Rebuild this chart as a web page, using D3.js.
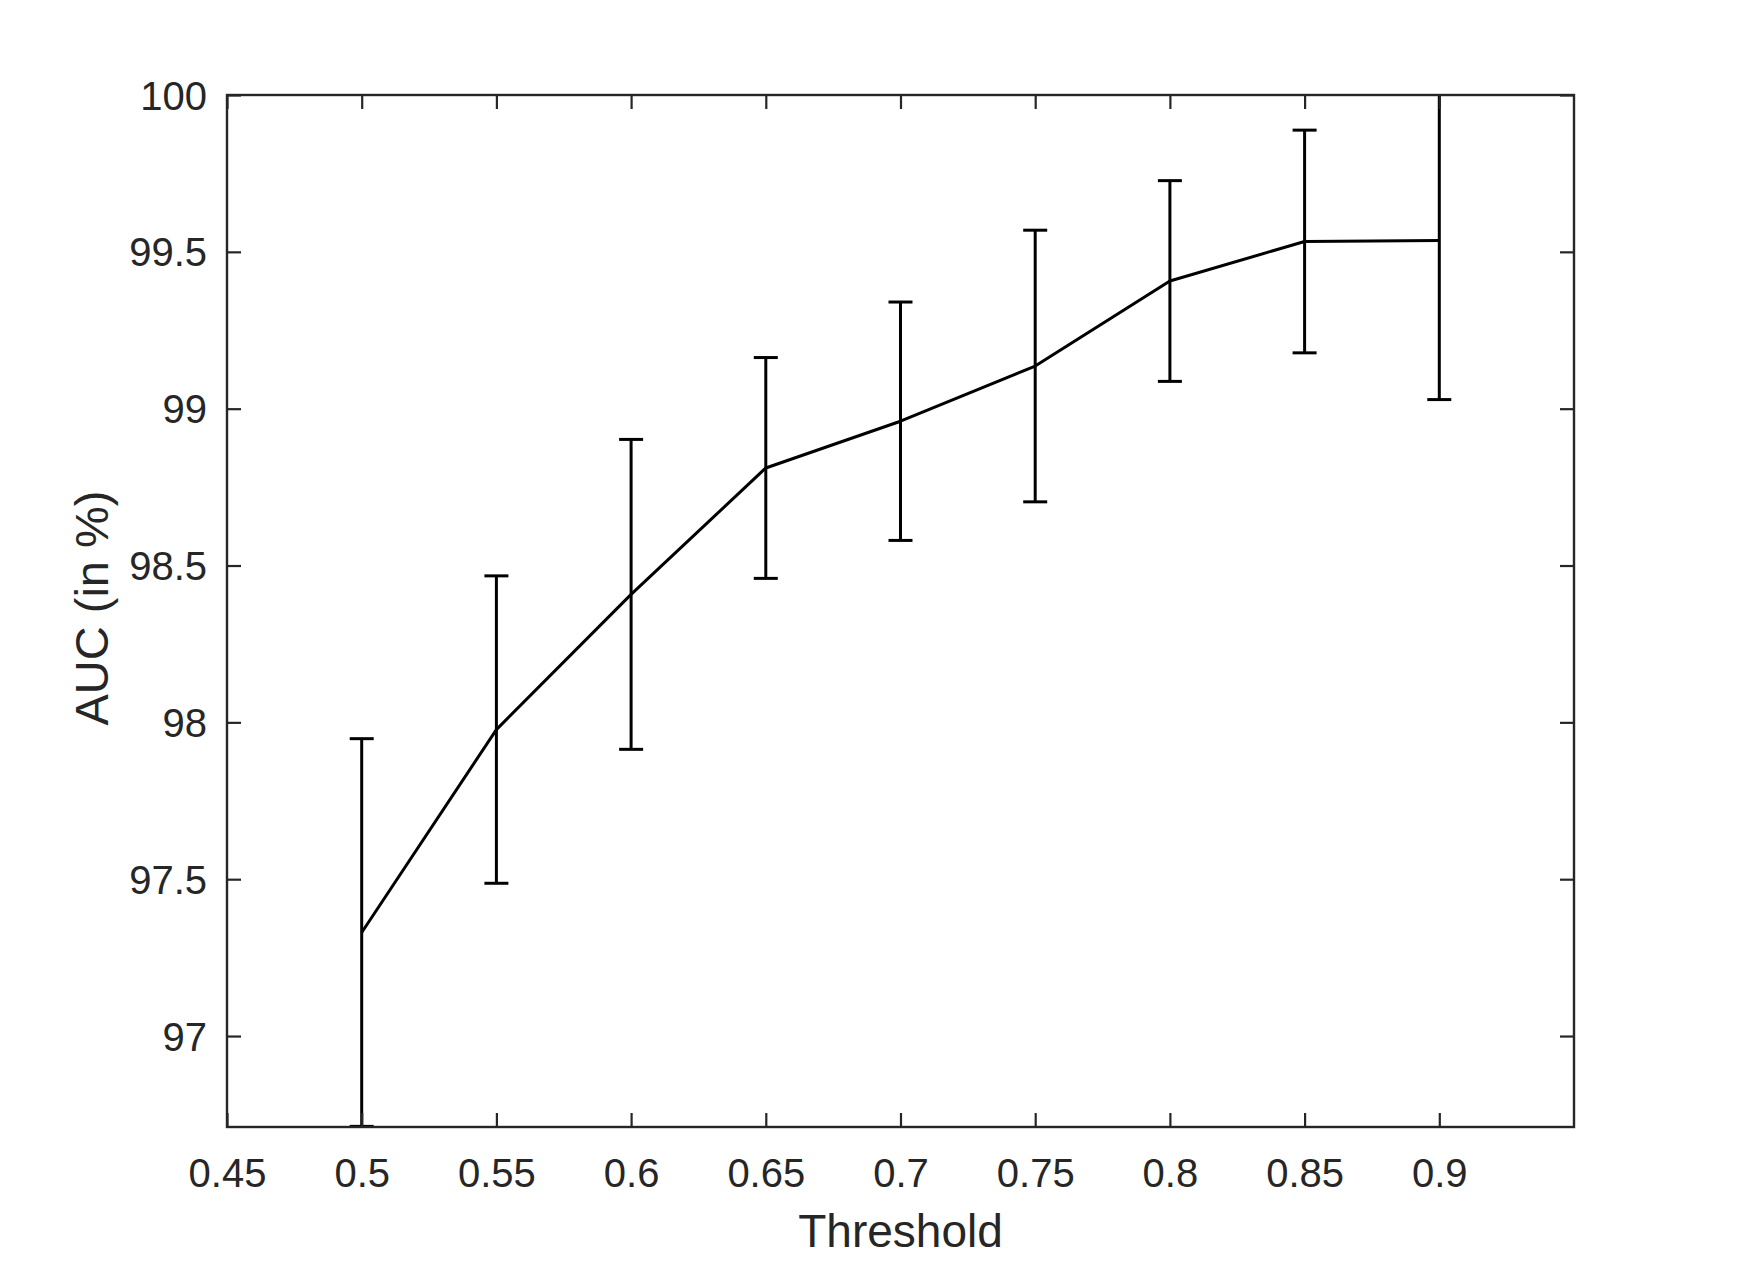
<!DOCTYPE html>
<html>
<head>
<meta charset="utf-8">
<script src="https://cdn.jsdelivr.net/npm/d3@7"></script>
<style>
  body { margin: 0; background: #fff; }
  text { font-family: "Liberation Sans", Arial, Helvetica, sans-serif; fill: #262626; }
</style>
</head>
<body>
<div id="chart"></div>
<script>
// data
const thresholds = [0.5, 0.55, 0.6, 0.65, 0.7, 0.75, 0.8, 0.85, 0.9];
const aucMean = [97.33, 97.977, 98.408, 98.811, 98.96, 99.136, 99.407, 99.533, 99.536];
const aucErr = [0.618, 0.49, 0.494, 0.352, 0.38, 0.433, 0.32, 0.355, 0.507];
const xTicks = [0.45, 0.5, 0.55, 0.6, 0.65, 0.7, 0.75, 0.8, 0.85, 0.9];
const yTicks = [97, 97.5, 98, 98.5, 99, 99.5, 100];

const W = 1740, H = 1267;
const margin = {top: 95, right: 166, bottom: 140, left: 227};
const width = W - margin.left - margin.right;
const height = H - margin.top - margin.bottom;

const svg = d3.select("#chart").append("svg")
    .attr("width", W)
    .attr("height", H);

const g = svg.append("g")
    .attr("transform", "translate(" + margin.left + "," + margin.top + ")");

const x = d3.scaleLinear().domain([0.45, 0.95]).range([0, width]);
const y = d3.scaleLinear().domain([96.71, 100]).range([height, 0]);

const axisColor = "#262626";
const tickLen = 14;

// clip so error bars stop at the box
g.append("clipPath").attr("id", "clip")
    .append("rect").attr("width", width).attr("height", height);

const pts = thresholds.map((t, i) => ({t: t, m: aucMean[i], e: aucErr[i]}));

const plot = g.append("g").attr("clip-path", "url(#clip)");

// error bars
const bars = plot.selectAll(".err").data(pts).enter().append("g").attr("class", "err");
bars.append("line")
    .attr("x1", d => x(d.t)).attr("x2", d => x(d.t))
    .attr("y1", d => y(d.m - d.e)).attr("y2", d => y(d.m + d.e))
    .attr("stroke", "#000").attr("stroke-width", 3);
const capW = 12;
bars.append("line")
    .attr("x1", d => x(d.t) - capW).attr("x2", d => x(d.t) + capW)
    .attr("y1", d => y(d.m + d.e)).attr("y2", d => y(d.m + d.e))
    .attr("stroke", "#000").attr("stroke-width", 3);
bars.append("line")
    .attr("x1", d => x(d.t) - capW).attr("x2", d => x(d.t) + capW)
    .attr("y1", d => y(d.m - d.e)).attr("y2", d => y(d.m - d.e))
    .attr("stroke", "#000").attr("stroke-width", 3);

// mean line
plot.append("path")
    .datum(pts)
    .attr("fill", "none")
    .attr("stroke", "#000")
    .attr("stroke-width", 3)
    .attr("stroke-linejoin", "round")
    .attr("d", d3.line().x(d => x(d.t)).y(d => y(d.m)));

// axes (box with inward ticks on all sides)
const bottomAx = g.append("g").attr("transform", "translate(0," + height + ")")
    .call(d3.axisBottom(x).tickValues(xTicks).tickSizeInner(-tickLen).tickSizeOuter(0)
        .tickPadding(32).tickFormat(d3.format("")));
const topAx = g.append("g")
    .call(d3.axisTop(x).tickValues(xTicks).tickSizeInner(-tickLen).tickSizeOuter(0).tickFormat(""));
const leftAx = g.append("g")
    .call(d3.axisLeft(y).tickValues(yTicks).tickSizeInner(-tickLen).tickSizeOuter(0)
        .tickPadding(20).tickFormat(d3.format("")));
const rightAx = g.append("g").attr("transform", "translate(" + width + ",0)")
    .call(d3.axisRight(y).tickValues(yTicks).tickSizeInner(-tickLen).tickSizeOuter(0).tickFormat(""));

[bottomAx, topAx, leftAx, rightAx].forEach(a => {
    a.select(".domain").remove();
    a.selectAll(".tick line").attr("stroke", axisColor).attr("stroke-width", 2.2);
    a.selectAll("text").style("font-size", "40px").attr("fill", axisColor);
});
leftAx.selectAll("text").attr("dy", "0.35em");
bottomAx.selectAll("text").attr("dy", "0.71em");

g.append("rect")
    .attr("width", width).attr("height", height)
    .attr("fill", "none")
    .attr("stroke", axisColor)
    .attr("stroke-width", 2.4);

// axis labels
svg.append("text")
    .attr("x", margin.left + width / 2)
    .attr("y", 1247)
    .attr("text-anchor", "middle")
    .style("font-size", "46px")
    .text("Threshold");

svg.append("text")
    .attr("transform", "translate(108," + (margin.top + height / 2 - 3) + ") rotate(-90)")
    .attr("text-anchor", "middle")
    .style("font-size", "47px")
    .text("AUC (in %)");
</script>
</body>
</html>
